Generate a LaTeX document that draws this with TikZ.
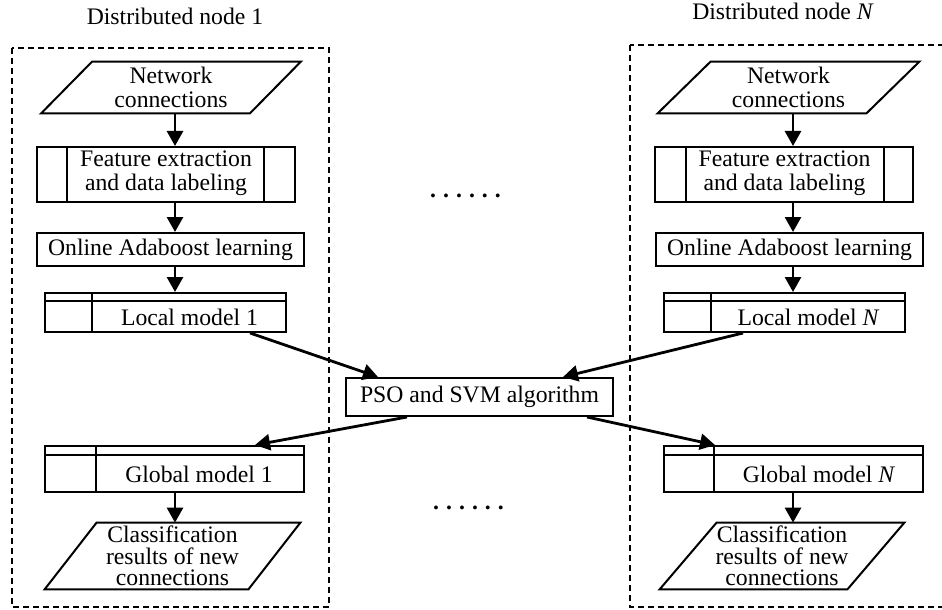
\documentclass[tikz,border=0pt]{standalone}
\usepackage{fontspec}
\setmainfont{Liberation Serif}
\usetikzlibrary{arrows.meta,calc}
\begin{document}
\begin{tikzpicture}[x=0.5pt,y=-0.5pt,
  line join=miter,
  txt/.style={font=\fontsize{11.85}{12}\selectfont, align=center, inner sep=0},
  ctxt/.style={font=\fontsize{11.85}{10.8}\selectfont, align=center, inner sep=0},
  boxnode/.style={draw, line width=1pt, inner sep=0},
  shapenode/.style={inner sep=0},
  outline/.style={draw, line width=1pt},
  inner/.style={line width=1pt},
  frame/.style={line width=0.8pt, dash pattern=on 3pt off 2pt},
  conn/.style={line width=1.4pt, -{Triangle[length=7.5pt,width=8pt]}}
]
\useasboundingbox (0,0) rectangle (942,610);

% frames
\begin{scope}
\clip (0,0) rectangle (942,610);
\draw[frame] (12,48) rectangle (329,607);
\draw[frame] (630,45) rectangle (960,607);
\end{scope}

% titles
\node[txt, anchor=base] (t1) at (175,25) {Distributed node 1};
\node[txt, anchor=base] (tN) at (783,20) {Distributed node \textit{N}};

% column axes
\coordinate (axL) at (175,0);
\coordinate (axR) at (793,0);

% ---------- left column ----------
\node[txt, shapenode, minimum width=104pt, minimum height=25.5pt] (n1) at (171,87.5) {Network\\connections};
\draw[outline] ($(n1.north west)+(25.5,0)$) -- ($(n1.north east)+(25.5,0)$) -- ($(n1.south east)-(25.5,0)$) -- ($(n1.south west)-(25.5,0)$) -- cycle;

\node[boxnode, minimum width=129pt, minimum height=27.5pt] (f1) at (166,174.5) {};
\draw[inner] ($(f1.north west)+(31,0)$) -- ($(f1.south west)+(31,0)$);
\draw[inner] ($(f1.north east)-(32,0)$) -- ($(f1.south east)-(32,0)$);
\node[txt] (f1t) at (166,173.5) {Feature extraction\\and data labeling};

\node[boxnode, txt, minimum width=133.5pt, minimum height=16.5pt] (o1) at (170.5,249.5) {Online Adaboost learning};

\node[boxnode, minimum width=120.5pt, minimum height=19.5pt] (l1) at (165.5,312.5) {};
\draw[inner] ($(l1.north west)+(0,9)$) -- ($(l1.north east)+(0,9)$);
\draw[inner] ($(l1.north west)+(48,0)$) -- ($(l1.south west)+(48,0)$);
\node[txt] (l1t) at (189.5,317) {Local model 1};

\node[boxnode, minimum width=129.5pt, minimum height=23pt] (g1) at (174.5,469) {};
\draw[inner] ($(g1.north west)+(0,10)$) -- ($(g1.north east)+(0,10)$);
\draw[inner] ($(g1.north west)+(52,0)$) -- ($(g1.south west)+(52,0)$);
\node[txt] (g1t) at (199,474) {Global model 1};

\node[ctxt, shapenode, minimum width=101.5pt, minimum height=33pt] (c1) at (172.5,556) {Classification\\results of new\\connections};
\draw[outline] ($(c1.north west)+(26,0)$) -- ($(c1.north east)+(26,0)$) -- ($(c1.south east)-(26,0)$) -- ($(c1.south west)-(26,0)$) -- cycle;

% ---------- right column ----------
\node[txt, shapenode, minimum width=104pt, minimum height=25.5pt] (nN) at (788.5,87.5) {Network\\connections};
\draw[outline] ($(nN.north west)+(26.5,0)$) -- ($(nN.north east)+(26.5,0)$) -- ($(nN.south east)-(26.5,0)$) -- ($(nN.south west)-(26.5,0)$) -- cycle;

\node[boxnode, minimum width=129pt, minimum height=27.5pt] (fN) at (784,174.5) {};
\draw[inner] ($(fN.north west)+(32,0)$) -- ($(fN.south west)+(32,0)$);
\draw[inner] ($(fN.north east)-(30,0)$) -- ($(fN.south east)-(30,0)$);
\node[txt] (fNt) at (784.5,173.5) {Feature extraction\\and data labeling};

\node[boxnode, txt, minimum width=133.5pt, minimum height=16.5pt] (oN) at (789.5,249.5) {Online Adaboost learning};

\node[boxnode, minimum width=120.5pt, minimum height=19.5pt] (lN) at (784.5,312.5) {};
\draw[inner] ($(lN.north west)+(0,9)$) -- ($(lN.north east)+(0,9)$);
\draw[inner] ($(lN.north west)+(48,0)$) -- ($(lN.south west)+(48,0)$);
\node[txt] (lNt) at (808.5,317) {Local model \textit{N}};

\node[boxnode, minimum width=129.5pt, minimum height=23pt] (gN) at (793.5,469) {};
\draw[inner] ($(gN.north west)+(0,10)$) -- ($(gN.north east)+(0,10)$);
\draw[inner] ($(gN.north west)+(51,0)$) -- ($(gN.south west)+(51,0)$);
\node[txt] (gNt) at (819,474) {Global model \textit{N}};

\node[ctxt, shapenode, minimum width=93.5pt, minimum height=33pt] (cN) at (782,556) {Classification\\results of new\\connections};
\draw[outline] ($(cN.north west)+(28.5,0)$) -- ($(cN.north east)+(28.5,0)$) -- ($(cN.south east)-(28.5,0)$) -- ($(cN.south west)-(28.5,0)$) -- cycle;

% ---------- centre ----------
\node[boxnode, txt, minimum width=133.5pt, minimum height=19pt] (pso) at (479.5,397) {PSO and SVM algorithm};

\node[txt, anchor=base] (d1) at (465.5,197.5) {\textbf{.\hspace{3.5pt}.\hspace{3.5pt}.\hspace{3.5pt}.\hspace{3.5pt}.\hspace{3.5pt}.}};
\node[txt, anchor=base] (d2) at (468.5,509.5) {\textbf{.\hspace{3.5pt}.\hspace{3.5pt}.\hspace{3.5pt}.\hspace{3.5pt}.\hspace{3.5pt}.}};

% ---------- connectors ----------
\draw[conn] (n1.south -| axL) -- (f1.north -| axL);
\draw[conn] (f1.south -| axL) -- (o1.north -| axL);
\draw[conn] (o1.south -| axL) -- (l1.north -| axL);
\draw[conn] (g1.south -| axL) -- (c1.north -| axL);

\draw[conn] (nN.south -| axR) -- (fN.north -| axR);
\draw[conn] (fN.south -| axR) -- (oN.north -| axR);
\draw[conn] (oN.south -| axR) -- (lN.north -| axR);
\draw[conn] (gN.south -| axR) -- (cN.north -| axR);

\draw[conn] ($(l1.south)+(84.5,0)$) -- ($(pso.north)+(-101.5,0)$);
\draw[conn] ($(lN.south)+(-41.5,0)$) -- ($(pso.north)+(83.5,0)$);
\draw[conn] ($(pso.south)+(-72.5,0)$) -- ($(g1.north)+(80.5,0)$);
\draw[conn] ($(pso.south)+(107.5,0)$) -- ($(gN.north)+(-78.5,0)$);
\end{tikzpicture}
\end{document}
